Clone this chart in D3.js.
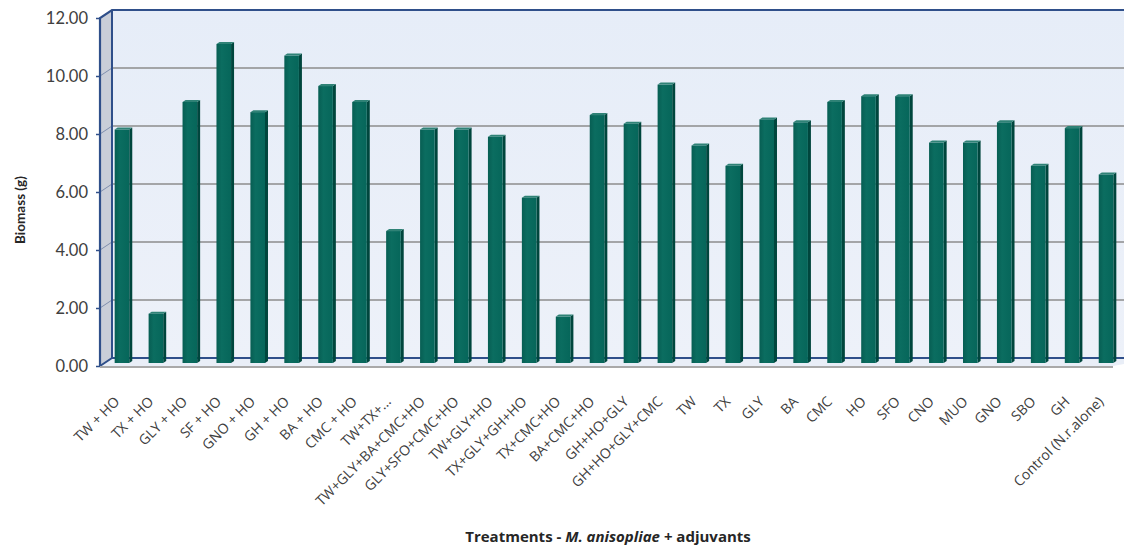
<!DOCTYPE html>
<html>
<head>
<meta charset="utf-8">
<script src="https://cdn.jsdelivr.net/npm/d3@7"></script>
<style>
  html, body { margin: 0; padding: 0; background: #fff; }
  svg { display: block; font-family: Lato, "Open Sans", sans-serif; }
</style>
</head>
<body>
<svg id="chart" width="1124" height="548"></svg>
<script>
// Treatments (M. anisopliae + adjuvants) and resulting biomass in grams
const treatments = [
  "TW + HO", "TX + HO", "GLY + HO", "SF + HO", "GNO + HO", "GH + HO", "BA + HO",
  "CMC + HO", "TW+TX+...", "TW+GLY+BA+CMC+HO", "GLY+SFO+CMC+HO", "TW+GLY+HO",
  "TX+GLY+GH+HO", "TX+CMC+HO", "BA+CMC+HO", "GH+HO+GLY", "GH+HO+GLY+CMC",
  "TW", "TX", "GLY", "BA", "CMC", "HO", "SFO", "CNO", "MUO", "GNO", "SBO", "GH",
  "Control (N.r.alone)"
];
const biomass = [
  8.05, 1.70, 9.00, 11.00, 8.65, 10.60, 9.55, 9.00, 4.55, 8.05, 8.05, 7.80,
  5.70, 1.60, 8.55, 8.25, 9.60, 7.50, 6.80, 8.40, 8.30, 9.00, 9.20, 9.20,
  7.60, 7.60, 8.30, 6.80, 8.10, 6.50
];
const yTicks = [0, 2, 4, 6, 8, 10, 12];

const svg = d3.select("#chart");

// Plot frame: front plane and the depth offset of the back wall
const left = 100, right = 1118, front0 = 366, front12 = 18;
const depth = { dx: 12, dy: -8 };        // back wall offset
const barShift = { dx: 5, dy: -3 };      // where the bars stand on the floor
const barDepth = { dx: 3, dy: -2 };      // thickness of each bar

const x = d3.scaleBand().domain(treatments).range([left, right]).paddingInner(0.57).paddingOuter(0.285);
const y = d3.scaleLinear().domain([0, 12]).range([front0, front12]);

const defs = svg.append("defs");
const wallGrad = defs.append("linearGradient").attr("id", "wall").attr("x1", 0).attr("y1", 0).attr("x2", 0).attr("y2", 1);
wallGrad.append("stop").attr("offset", "0%").attr("stop-color", "#e6edf8");
wallGrad.append("stop").attr("offset", "100%").attr("stop-color", "#edf1f9");
const faceGrad = defs.append("linearGradient").attr("id", "face").attr("x1", 0).attr("y1", 0).attr("x2", 1).attr("y2", 0);
faceGrad.append("stop").attr("offset", "0%").attr("stop-color", "#075e53");
faceGrad.append("stop").attr("offset", "35%").attr("stop-color", "#0b6d60");
faceGrad.append("stop").attr("offset", "100%").attr("stop-color", "#06665a");

const backLeft = left + depth.dx;
const backRight = 1124;
const backTop = y(12) + depth.dy, backBottom = y(0) + depth.dy;

// Back wall
svg.append("rect")
  .attr("x", backLeft).attr("y", backTop)
  .attr("width", backRight - backLeft).attr("height", backBottom - backTop)
  .attr("fill", "url(#wall)");

// Floor
svg.append("path")
  .attr("d", `M${left},${y(0)} L${backLeft},${backBottom} L${backRight},${backBottom} L${backRight},${y(0) - 2} L${1113},${y(0)} Z`)
  .attr("fill", "#e9eef7");

// Side wall
svg.append("path")
  .attr("d", `M${left},${y(12)} L${backLeft},${backTop} L${backLeft},${backBottom} L${left},${y(0)} Z`)
  .attr("fill", "#c9ced8");

// Gridlines on the back wall
svg.append("g").selectAll("line")
  .data(yTicks.filter(t => t > 0 && t < 12))
  .join("line")
  .attr("x1", backLeft).attr("x2", backRight)
  .attr("y1", d => y(d) + depth.dy).attr("y2", d => y(d) + depth.dy)
  .attr("stroke", "#8c8c8c").attr("stroke-width", 1.3);

// Gridline continuation across the side wall
svg.append("g").selectAll("line")
  .data(yTicks)
  .join("line")
  .attr("x1", left).attr("x2", backLeft)
  .attr("y1", d => y(d)).attr("y2", d => y(d) + depth.dy)
  .attr("stroke", "#7f8fae").attr("stroke-width", 1);

// Wall outlines
const edge = "#2f4f8a";
svg.append("path")
  .attr("d", `M${left},${y(0)} L${left},${y(12)} L${backLeft},${backTop} L${backRight},${backTop}`)
  .attr("fill", "none").attr("stroke", edge).attr("stroke-width", 2.2);
svg.append("path")
  .attr("d", `M${backLeft},${backTop} L${backLeft},${backBottom} L${backRight},${backBottom}`)
  .attr("fill", "none").attr("stroke", edge).attr("stroke-width", 2);
svg.append("line")
  .attr("x1", left).attr("y1", y(0)).attr("x2", backLeft).attr("y2", backBottom)
  .attr("stroke", edge).attr("stroke-width", 2);
// Front edge of the floor
svg.append("line")
  .attr("x1", left).attr("x2", 1113).attr("y1", y(0) + 1).attr("y2", y(0) + 1)
  .attr("stroke", "#a9a9a9").attr("stroke-width", 2);

// Y axis ticks and labels on the front plane
const yAxis = d3.axisLeft(y).tickValues(yTicks).tickSize(4).tickPadding(8).tickFormat(d3.format(".2f"));
const gy = svg.append("g").attr("transform", `translate(${left},0)`).call(yAxis);
gy.select(".domain").remove();
gy.selectAll(".tick line").attr("stroke", edge).attr("stroke-width", 1.5);
gy.selectAll(".tick text")
  .attr("fill", "#404040").attr("font-size", 16.5)
  .attr("font-family", "Lato, 'Open Sans', sans-serif");

// Bars: front face, right side and top
const bw = x.bandwidth();
const bars = svg.append("g").selectAll("g").data(treatments.map((t, i) => ({ t, v: biomass[i] }))).join("g");
const bx = d => x(d.t) + barShift.dx;
const by0 = y(0) + barShift.dy;
const byTop = d => y(d.v) + barShift.dy;

bars.append("path")
  .attr("d", d => {
    const x1 = bx(d) + bw, t = byTop(d);
    return `M${x1},${by0} L${x1},${t} L${x1 + barDepth.dx},${t + barDepth.dy} L${x1 + barDepth.dx},${by0 + barDepth.dy} Z`;
  })
  .attr("fill", "#00463d");
bars.append("path")
  .attr("d", d => {
    const x0 = bx(d), t = byTop(d);
    return `M${x0},${t} L${x0 + barDepth.dx},${t + barDepth.dy} L${x0 + bw + barDepth.dx},${t + barDepth.dy} L${x0 + bw},${t} Z`;
  })
  .attr("fill", "#2f8276");
bars.append("rect")
  .attr("x", bx).attr("y", byTop)
  .attr("width", bw).attr("height", d => by0 - byTop(d))
  .attr("fill", "url(#face)");

// Category labels, rotated
svg.append("g").selectAll("text")
  .data(treatments)
  .join("text")
  .attr("transform", d => `translate(${x(d) + bw / 2},${y(0) + 33}) rotate(-45)`)
  .attr("text-anchor", "end")
  .attr("dy", "0.35em")
  .attr("fill", "#404040")
  .attr("font-family", "'Open Sans', sans-serif")
  .attr("font-size", 14)
  .text(d => d);

// Axis titles
svg.append("text")
  .attr("transform", `translate(25,210) rotate(-90)`)
  .attr("text-anchor", "middle")
  .attr("font-size", 13.5).attr("font-weight", "bold").attr("fill", "#262626")
  .text("Biomass (g)");

const xt = svg.append("text")
  .attr("x", 608).attr("y", 542)
  .attr("text-anchor", "middle")
  .attr("font-family", "'Open Sans', sans-serif")
  .attr("font-size", 15).attr("font-weight", "bold").attr("fill", "#262626");
xt.append("tspan").text("Treatments - ");
xt.append("tspan").attr("font-style", "italic").text("M. anisopliae");
xt.append("tspan").text(" + adjuvants");
</script>
</body>
</html>
